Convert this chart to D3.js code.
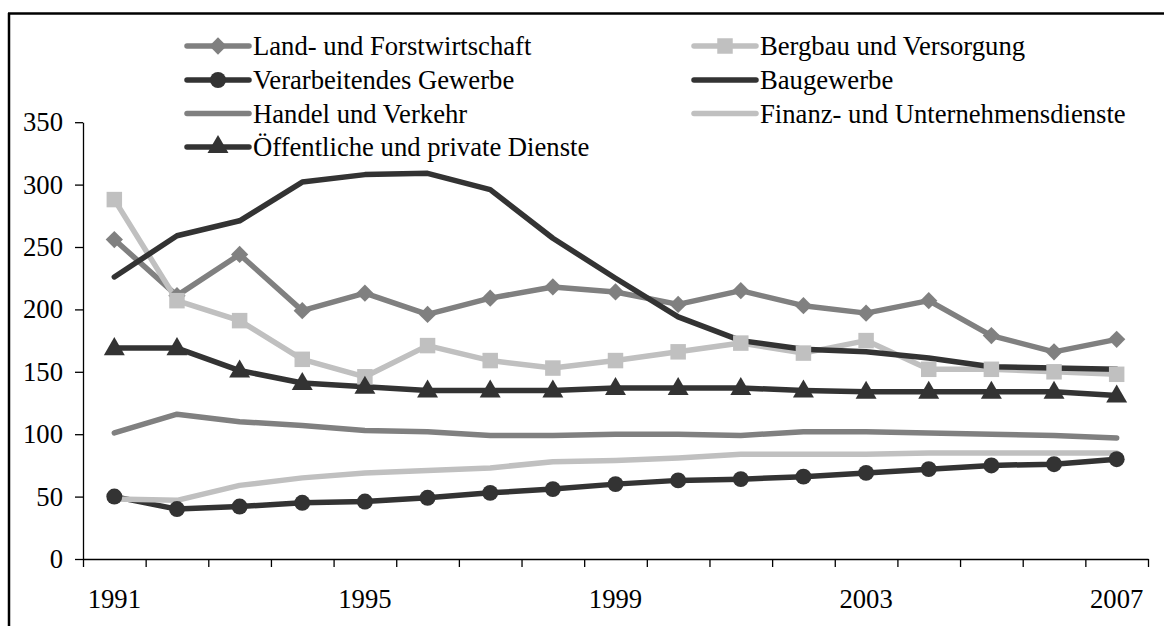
<!DOCTYPE html>
<html>
<head>
<meta charset="utf-8">
<script src="https://cdn.jsdelivr.net/npm/d3@7"></script>
<style>
  body { margin: 0; background: #fff; }
  svg text { font-family: "Liberation Serif", "Tinos", "Times New Roman", Times, "DejaVu Serif", serif; fill: #000; }
</style>
</head>
<body>
<div id="chart"></div>
<script>
// data
var years = ["1991", "1992", "1993", "1994", "1995", "1996", "1997", "1998", "1999",
    "2000", "2001", "2002", "2003", "2004", "2005", "2006", "2007"];
var yearLabels = ["1991", "1995", "1999", "2003", "2007"];
var yTicks = [0, 50, 100, 150, 200, 250, 300, 350];

var landForst = [256, 211, 244, 199, 213, 196, 209, 218, 214, 204, 215, 203, 197, 207, 179, 166, 176];
var bergbau = [288, 207, 191, 160, 146, 171, 159, 153, 159, 166, 173, 165, 175, 152, 152, 150, 148];
var verarbeitend = [50, 40, 42, 45, 46, 49, 53, 56, 60, 63, 64, 66, 69, 72, 75, 76, 80];
var baugewerbe = [226, 259, 271, 302, 308, 309, 296, 257, 225, 194, 175, 168, 166, 161, 154, 153, 152];
var handel = [101, 116, 110, 107, 103, 102, 99, 99, 100, 100, 99, 102, 102, 101, 100, 99, 97];
var finanz = [48, 47, 59, 65, 69, 71, 73, 78, 79, 81, 84, 84, 84, 85, 85, 85, 85];
var oeffentlich = [169, 169, 151, 141, 138, 135, 135, 135, 137, 137, 137, 135, 134, 134, 134, 134, 131];

var seriesNames = ["Land- und Forstwirtschaft", "Bergbau und Versorgung", "Verarbeitendes Gewerbe",
    "Baugewerbe", "Handel und Verkehr", "Finanz- und Unternehmensdienste", "Öffentliche und private Dienste"];
var seriesValues = [landForst, bergbau, verarbeitend, baugewerbe, handel, finanz, oeffentlich];
var seriesColors = ["#808080", "#c0c0c0", "#333333", "#333333", "#808080", "#c0c0c0", "#333333"];
var seriesMarkers = ["diamond", "square", "circle", null, null, null, "triangle"];

var svgWidth = 1164;
var svgHeight = 626;
var fontFam = '"Liberation Serif", "Tinos", "Times New Roman", Times, "DejaVu Serif", serif';
var fontSize = 26.67;

var svg = d3.select("#chart")
    .append("svg")
    .attr("width", svgWidth)
    .attr("height", svgHeight);

// frame: top and left edges only
svg.append("line").attr("x1", 8).attr("x2", svgWidth).attr("y1", 13.5).attr("y2", 13.5)
    .attr("stroke", "#000").attr("stroke-width", 2.5);
svg.append("line").attr("x1", 9).attr("x2", 9).attr("y1", 13).attr("y2", svgHeight)
    .attr("stroke", "#000").attr("stroke-width", 2.5);

var x = d3.scaleBand().domain(years).range([83, 1148]).padding(0);
var xEdge = d3.scaleLinear().domain([0, years.length]).range([83, 1148]);
var y = d3.scaleLinear().domain([0, 350]).range([559, 122.2]);
var cx = function (yr) { return x(yr) + x.bandwidth() / 2; };

// y axis
var yAxis = svg.append("g")
    .attr("transform", "translate(83,0)")
    .call(d3.axisLeft(y).tickValues(yTicks).tickSize(8).tickSizeOuter(0).tickPadding(12));
yAxis.attr("font-family", fontFam).attr("font-size", fontSize);
yAxis.selectAll("text").attr("fill", "#000");
yAxis.selectAll("path, line").attr("stroke", "#000").attr("stroke-width", 1.3);

// x axis: ticks between categories
var xTickAxis = svg.append("g")
    .attr("transform", "translate(0,559)")
    .call(d3.axisBottom(xEdge).tickValues(d3.range(years.length + 1)).tickFormat("").tickSize(8).tickSizeOuter(0));
xTickAxis.selectAll("path, line").attr("stroke", "#000").attr("stroke-width", 1.3);

var xLabelAxis = svg.append("g")
    .attr("transform", "translate(0,559)")
    .call(d3.axisBottom(x).tickValues(yearLabels).tickSize(0).tickPadding(30));
xLabelAxis.select(".domain").remove();
xLabelAxis.attr("font-family", fontFam).attr("font-size", fontSize);
xLabelAxis.selectAll("text").attr("fill", "#000");

var line = d3.line()
    .x(function (d, i) { return cx(years[i]); })
    .y(function (d) { return y(d); });

// lines first, markers on top
seriesValues.forEach(function (vals, s) {
    svg.append("path")
        .datum(vals)
        .attr("d", line)
        .attr("fill", "none")
        .attr("stroke", seriesColors[s])
        .attr("stroke-width", 5.5)
        .attr("stroke-linejoin", "round")
        .attr("stroke-linecap", "round");
});

var symbolFor = {
    diamond: d3.symbol().type(d3.symbolDiamond2).size(190),
    square: d3.symbol().type(d3.symbolSquare).size(240),
    circle: d3.symbol().type(d3.symbolCircle).size(200),
    triangle: d3.symbol().type(d3.symbolTriangle).size(190)
};

seriesValues.forEach(function (vals, s) {
    var m = seriesMarkers[s];
    if (!m) return;
    svg.append("g").selectAll("path")
        .data(vals)
        .enter()
        .append("path")
        .attr("d", symbolFor[m])
        .attr("transform", function (d, i) {
            var dy = m === "triangle" ? 1 : 0;
            return `translate(${cx(years[i])},${y(d) + dy})`;
        })
        .attr("fill", seriesColors[s]);
});

// legend
var legendX = [187, 694];
var legendY = [46, 80, 113.5, 147];
seriesNames.forEach(function (name, s) {
    var col = s % 2;
    var row = Math.floor(s / 2);
    if (s === 6) { col = 0; row = 3; }
    var g = svg.append("g")
        .attr("transform", `translate(${legendX[col]},${legendY[row]})`);
    g.append("line")
        .attr("x1", 0).attr("x2", 62).attr("y1", 0).attr("y2", 0)
        .attr("stroke", seriesColors[s])
        .attr("stroke-width", 5.5)
        .attr("stroke-linecap", "round");
    if (seriesMarkers[s]) {
        g.append("path")
            .attr("d", symbolFor[seriesMarkers[s]])
            .attr("transform", "translate(31,0)")
            .attr("fill", seriesColors[s]);
    }
    g.append("text")
        .attr("x", 66)
        .attr("y", 0)
        .attr("dy", "0.35em")
        .attr("font-family", fontFam)
        .attr("font-size", fontSize)
        .text(name);
});
</script>
</body>
</html>
